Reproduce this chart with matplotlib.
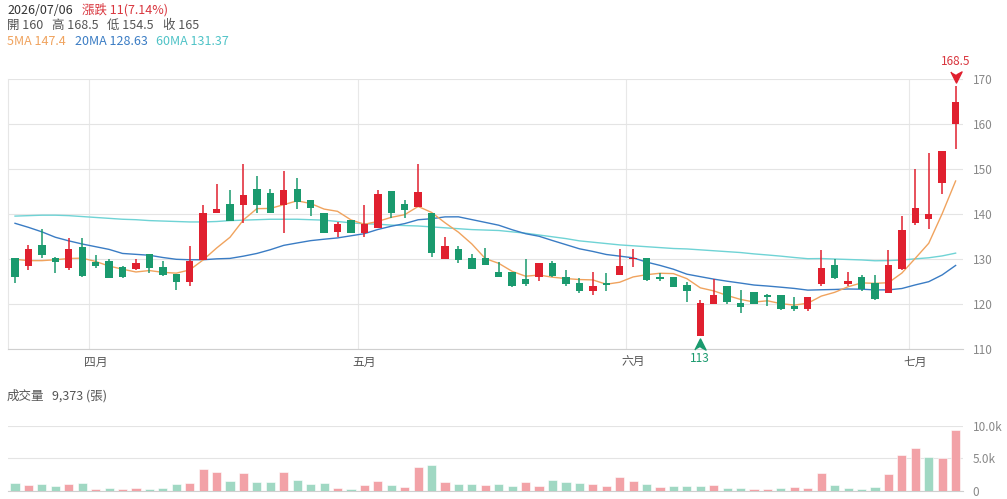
import numpy as np
import pandas as pd
import matplotlib
matplotlib.use("Agg")
import matplotlib.pyplot as plt
import matplotlib.transforms as mtransforms
from matplotlib.ticker import FuncFormatter

plt.rcParams['font.family'] = ['Noto Sans CJK TC', 'DejaVu Sans']

# ---------------- data ----------------
holidays = ['2026-04-03', '2026-04-06', '2026-05-01', '2026-06-19']
dates = pd.bdate_range('2026-03-24', '2026-07-06')
dates = dates[~dates.isin(pd.to_datetime(holidays))]

opens = [130.2, 128.5, 133.2, 130.2, 128.0, 132.8, 129.3, 129.7, 128.2, 127.9,
         131.1, 128.2, 126.7, 125.0, 129.85, 140.4, 142.2, 142.1, 145.6, 144.7,
         142.1, 145.6, 143.2, 140.2, 136.1, 138.7, 135.9, 137.0, 145.2, 142.2,
         141.7, 140.2, 130.1, 132.2, 130.2, 130.2, 127.2, 127.2, 125.7, 126.0,
         129.1, 126.1, 124.7, 123.0, 124.8, 126.5, 130.0, 130.2, 126.1, 126.1,
         124.3, 113.0, 120.1, 124.1, 120.2, 122.7, 122.1, 122.1, 119.6, 119.0,
         124.5, 128.7, 124.5, 126.0, 124.7, 122.6, 127.9, 138.0, 139.0, 146.9,
         160.0]
highs = [130.3, 133.2, 136.7, 130.6, 134.7, 134.7, 131.0, 130.1, 128.5, 130.0,
         131.1, 129.6, 126.7, 133.0, 142.1, 146.7, 145.5, 151.2, 148.6, 145.6,
         149.6, 148.1, 143.2, 140.2, 138.4, 138.7, 142.1, 145.5, 145.2, 143.2,
         151.2, 140.2, 135.0, 133.0, 131.1, 132.6, 129.5, 127.2, 130.1, 129.1,
         129.6, 127.6, 125.8, 127.1, 127.0, 132.2, 132.2, 130.2, 127.0, 126.1,
         125.0, 121.0, 125.6, 124.1, 123.2, 122.7, 122.3, 122.1, 121.7, 121.6,
         132.1, 130.0, 127.1, 126.5, 126.5, 132.1, 139.6, 150.1, 153.7, 154.0,
         168.5]
lows = [124.7, 127.6, 130.2, 127.0, 127.6, 126.1, 128.1, 125.8, 125.8, 127.6,
        127.0, 126.3, 123.2, 124.1, 129.85, 140.2, 138.5, 138.1, 140.2, 140.2,
        135.8, 141.1, 139.7, 135.9, 135.0, 135.9, 135.0, 136.9, 139.1, 139.1,
        141.55, 130.6, 130.1, 129.1, 127.8, 128.8, 126.0, 123.9, 124.1, 125.2,
        126.1, 124.1, 122.6, 122.1, 123.0, 126.5, 128.2, 125.2, 125.2, 123.8,
        120.6, 113.0, 120.1, 120.1, 118.1, 120.1, 119.6, 118.7, 118.6, 118.6,
        124.1, 125.6, 124.1, 123.0, 120.9, 122.6, 127.6, 137.6, 136.7, 144.5,
        154.5]
closes = [126.0, 132.2, 131.0, 129.5, 132.2, 126.4, 128.5, 125.9, 126.0, 129.1,
          128.0, 126.5, 125.0, 129.6, 140.2, 141.2, 138.5, 144.3, 142.1, 140.4,
          145.4, 142.8, 141.3, 135.9, 137.9, 135.9, 137.9, 144.5, 140.4, 140.9,
          145.0, 131.3, 133.0, 129.9, 127.8, 128.8, 126.0, 124.1, 124.5, 129.1,
          126.4, 124.5, 123.0, 124.1, 124.3, 128.6, 130.4, 125.5, 125.7, 123.9,
          123.0, 120.2, 122.1, 120.6, 119.5, 120.1, 121.6, 118.9, 119.0, 121.6,
          128.0, 125.8, 125.1, 123.3, 121.1, 128.7, 136.5, 141.5, 140.0, 154.0,
          165.0]
volumes = [1185, 875, 1080, 670, 1030, 1130, 310, 410, 310, 410,
           310, 410, 1030, 1185, 3350, 2830, 1545, 2680, 1340, 1290,
           2935, 1650, 980, 1130, 465, 310, 825, 1495, 825, 620,
           3710, 4020, 1340, 980, 980, 825, 1080, 720, 1290, 770,
           1600, 1390, 1130, 980, 770, 2060, 1545, 980, 515, 670,
           720, 720, 825, 410, 465, 260, 260, 465, 515, 410,
           2730, 825, 410, 310, 565, 2575, 5510, 6540, 5200, 5000,
           9373]
# moving-average values read from the picture where earlier history is not shown
ma5_head = [130.0, 129.7, 129.7, 129.9]
ma20_head = [138.0, 137.1, 136.1, 134.9, 134.1, 133.4, 132.8, 132.2, 131.3, 131.1,
             130.9, 130.4, 130.0, 129.9, 129.9, 130.1, 130.2, 130.7, 131.3]
ma60_head = [139.6, 139.7, 139.8, 139.8, 139.7, 139.5, 139.3, 139.1, 138.9, 138.8,
             138.6, 138.5, 138.4, 138.3, 138.3, 138.4, 138.6, 138.7, 138.8, 138.9,
             138.9, 138.9, 138.8, 138.7, 138.4, 138.1, 137.9, 137.8, 137.6, 137.5,
             137.4, 137.2, 137.0, 136.8, 136.6, 136.5, 136.4, 136.1, 135.8, 135.4,
             135.0, 134.6, 134.1, 133.8, 133.5, 133.2, 133.0, 132.8, 132.6, 132.4,
             132.3, 132.1, 131.9, 131.7, 131.5, 131.2, 130.96, 130.7, 130.4]
month_names = {3: '三月', 4: '四月', 5: '五月', 6: '六月', 7: '七月'}

# ---------------- derived ----------------
o = np.array(opens); h = np.array(highs); l = np.array(lows); c = np.array(closes)
v = np.array(volumes, dtype=float)
n = len(c)
x = np.arange(n)
cs = pd.Series(c)
def ma(win, head):
    s = cs.rolling(win).mean().to_numpy()
    s[:len(head)] = head
    return s
ma5 = ma(5, ma5_head); ma20 = ma(20, ma20_head); ma60 = ma(60, ma60_head)

RED = '#e0202f'; GREEN = '#1a9a6e'
VRED = '#f2a2a7'; VGREEN = '#a0d8c3'
up = c >= o
cand_col = np.where(up, RED, GREEN)
prev = np.concatenate([[o[0]], c[:-1]])
vol_col = np.where(c >= prev, VRED, VGREEN)

# ---------------- figure ----------------
W, H = 1007, 499
fig = plt.figure(figsize=(W / 100, H / 100), dpi=100)
def fx(px): return px / W
def fy(py): return 1 - py / H

L, R = 8.3, 963
ax = fig.add_axes([fx(L), fy(349.3), fx(R) - fx(L), fy(79.3) - fy(349.3)])
axv = fig.add_axes([fx(L), fy(490.7), fx(R) - fx(L), fy(426) - fy(490.7)])

# candles
ax.vlines(x, l, h, colors=cand_col, linewidth=1.1, zorder=3)
body_bottom = np.minimum(o, c)
body_h = np.maximum(np.abs(c - o), 0.15)
ax.bar(x, body_h, bottom=body_bottom, width=0.55, color=cand_col, zorder=4, linewidth=0)

# moving averages
ax.plot(x, ma60, color='#6fd3d5', lw=1.0, zorder=2)
ax.plot(x, ma20, color='#3a7cc4', lw=1.0, zorder=2)
ax.plot(x, ma5, color='#f0a35e', lw=1.0, zorder=2)

ax.set_xlim(-0.5, 70.55)
ax.set_ylim(110, 170)
ax.set_yticks(np.arange(110, 171, 10))
ax.yaxis.tick_right()
ax.tick_params(axis='y', length=0, pad=7, labelsize=8.5, labelcolor='#888888')
ax.grid(axis='y', color='#e4e4e4', lw=0.8, zorder=0)

# month ticks
months = dates.month
first_idx = [i for i in range(1, n) if months[i] != months[i - 1]]
ax.set_xticks(first_idx)
ax.set_xticklabels([month_names[months[i]] for i in first_idx])
ax.tick_params(axis='x', length=0, pad=5, labelsize=8.5, labelcolor='#555555')
for i in first_idx:
    ax.axvline(i - 0.5, color='#e8e8e8', lw=0.8, zorder=0)

for s in ['top', 'right']:
    ax.spines[s].set_visible(False)
ax.spines['left'].set_color('#e6e6e6')
ax.spines['bottom'].set_color('#cfcfcf')

# high / low markers
ih = int(np.argmax(h)); il = int(np.argmin(l))
down_arrow = [(-1, 1), (0, -1), (1, 1), (0, 0.45)]
up_arrow = [(-1, -1), (0, 1), (1, -1), (0, -0.45)]
tr_hi = mtransforms.offset_copy(ax.transData, fig=fig, x=0, y=6.3, units='points')
tr_lo = mtransforms.offset_copy(ax.transData, fig=fig, x=0, y=-6.0, units='points')
ax.plot([ih], [h[ih]], marker=down_arrow, ms=8, color=RED, transform=tr_hi, clip_on=False, zorder=5)
ax.plot([il], [l[il]], marker=up_arrow, ms=8, color=GREEN, transform=tr_lo, clip_on=False, zorder=5)
ax.annotate(f'{h[ih]:g}', (ih, h[ih]), xytext=(0, 18), textcoords='offset points',
            ha='center', va='center', color='#d9363e', fontsize=8.5, annotation_clip=False)
ax.annotate(f'{l[il]:g}', (il, l[il]), xytext=(0, -16), textcoords='offset points',
            ha='center', va='center', color=GREEN, fontsize=8.5, annotation_clip=False)

# volume
axv.bar(x, v, width=0.68, color=vol_col, edgecolor='#ffffff', linewidth=0.4, zorder=3)
axv.set_xlim(-0.5, 70.55)
axv.set_ylim(0, 10000)
axv.set_yticks([0, 5000, 10000])
axv.yaxis.set_major_formatter(FuncFormatter(lambda val, p: '0' if val == 0 else f'{val/1000:.1f}k'))
axv.yaxis.tick_right()
axv.tick_params(axis='y', length=0, pad=7, labelsize=8.5, labelcolor='#888888')
axv.set_xticks([])
axv.grid(axis='y', color='#e4e4e4', lw=0.8, zorder=0)
for s in ['top', 'right', 'left']:
    axv.spines[s].set_visible(False)
axv.spines['bottom'].set_color('#cfcfcf')

# ---------------- header ----------------
def fmt(val):
    s = f'{round(val, 2):.2f}'.rstrip('0').rstrip('.')
    return s
chg = c[-1] - c[-2]
pct = chg / c[-2] * 100
hdr = 9
fig.text(fx(7), fy(10), dates[-1].strftime('%Y/%m/%d'), fontsize=hdr, color='#333333', va='center')
fig.text(fx(82), fy(10), f'漲跌 {fmt(chg)}({pct:.2f}%)', fontsize=hdr, color='#d9363e', va='center')
fig.text(fx(7), fy(25.7), f'開 {fmt(o[-1])}', fontsize=hdr, color='#555555', va='center')
fig.text(fx(52), fy(25.7), f'高 {fmt(h[-1])}', fontsize=hdr, color='#555555', va='center')
fig.text(fx(107), fy(25.7), f'低 {fmt(l[-1])}', fontsize=hdr, color='#555555', va='center')
fig.text(fx(163), fy(25.7), f'收 {fmt(c[-1])}', fontsize=hdr, color='#555555', va='center')
fig.text(fx(7), fy(41.7), f'5MA {fmt(ma5[-1])}', fontsize=hdr, color='#f0a35e', va='center')
fig.text(fx(75), fy(41.7), f'20MA {fmt(ma20[-1])}', fontsize=hdr, color='#3a7cc4', va='center')
fig.text(fx(156), fy(41.7), f'60MA {fmt(ma60[-1])}', fontsize=hdr, color='#4fc3c7', va='center')
fig.text(fx(7), fy(396), '成交量', fontsize=hdr, color='#555555', va='center')
fig.text(fx(52), fy(396), f'{int(v[-1]):,} (張)', fontsize=hdr, color='#555555', va='center')

fig.savefig('out.png', dpi=100)
